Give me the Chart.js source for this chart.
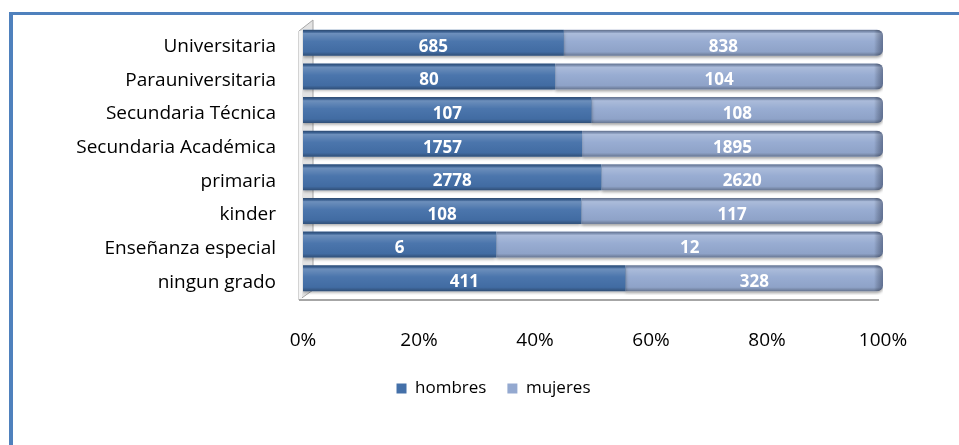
<!DOCTYPE html>
<html>
<head>
<meta charset="utf-8">
<script src="https://cdn.jsdelivr.net/npm/chart.js@4.4.0/dist/chart.umd.min.js"></script>
<style>
    html, body { margin: 0; padding: 0; background: #fff; overflow: hidden; }
    #wrap { position: relative; width: 959px; height: 445px; }
    #frame {
        position: absolute; left: 9px; top: 12px; width: 960px; height: 440px;
        border-left: 4px solid #4F81BD; border-top: 3px solid #4F81BD;
    }
    canvas { position: absolute; left: 0; top: 0; }
</style>
</head>
<body>
<div id="wrap">
    <div id="frame"></div>
    <canvas id="chart" width="959" height="445"></canvas>
</div>
<script>
const categories = [
    "Universitaria",
    "Parauniversitaria",
    "Secundaria Técnica",
    "Secundaria Académica",
    "primaria",
    "kinder",
    "Enseñanza especial",
    "ningun grado",
];
const hombres = [685, 80, 107, 1757, 2778, 108, 6, 411];
const mujeres = [838, 104, 108, 1895, 2620, 117, 12, 328];
const seriesNames = ["hombres", "mujeres"];
const tickStep = 20; // 0% .. 100%

const COLORS = {
    hombres: "#4470A9",
    mujeres: "#94A9D0",
};

// 100% stacked: share of each row
const totals = hombres.map((v, i) => v + mujeres[i]);
const hombresPct = hombres.map((v, i) => (v / totals[i]) * 100);
const mujeresPct = mujeres.map((v, i) => (v / totals[i]) * 100);
const rawValues = [hombres, mujeres];

const FONT = "'Open Sans', 'Noto Sans', sans-serif";

// grey side wall and floor of the 3D plot
const wallPlugin = {
    id: "wall",
    afterLayout(chart) {
        // legend sits a bit right of the canvas centre
        chart.legend.left += 22;
        chart.legend.right += 22;
    },
    beforeDatasetsDraw(chart) {
        const { ctx, chartArea } = chart;
        const { left, top, right, bottom } = chartArea;
        const floor = bottom + 5;
        ctx.save();
        ctx.fillStyle = "#E3E3E3";
        ctx.strokeStyle = "#A6A6A6";
        ctx.lineWidth = 1;
        ctx.beginPath();
        ctx.moveTo(left - 4, top + 5);
        ctx.lineTo(left + 10, top - 6);
        ctx.lineTo(left + 10, floor - 10);
        ctx.lineTo(left - 4, floor);
        ctx.closePath();
        ctx.fill();
        ctx.stroke();
        ctx.fillStyle = "#F4F4F4";
        ctx.fillRect(left - 4, top + 5, 3, floor - top - 5);
        ctx.strokeStyle = "#A6A6A6";
        ctx.lineWidth = 2;
        ctx.beginPath();
        ctx.moveTo(left - 4, floor);
        ctx.lineTo(right - 4, floor);
        ctx.stroke();
        ctx.restore();
        // soft shadow for the bars
        ctx.save();
        ctx.shadowColor = "rgba(0,0,0,0.35)";
        ctx.shadowBlur = 3;
        ctx.shadowOffsetX = 0;
        ctx.shadowOffsetY = 2;
    },
    afterDatasetsDraw(chart) {
        chart.ctx.restore();
    },
};

// bevel shading and value labels
const barLabelPlugin = {
    id: "barLabels",
    afterDatasetsDraw(chart) {
        const { ctx } = chart;
        const last = chart.data.datasets.length - 1;
        chart.data.datasets.forEach((ds, di) => {
            const meta = chart.getDatasetMeta(di);
            meta.data.forEach((bar, i) => {
                const x0 = Math.min(bar.base, bar.x);
                const w = Math.abs(bar.x - bar.base);
                const y0 = bar.y - bar.height / 2;
                const h = bar.height;
                ctx.save();
                ctx.beginPath();
                if (di === last) {
                    ctx.roundRect(x0, y0, w, h, [0, 6, 6, 0]);
                } else {
                    ctx.rect(x0, y0, w, h);
                }
                ctx.clip();
                const g = ctx.createLinearGradient(0, y0, 0, y0 + h);
                g.addColorStop(0, "rgba(0,0,0,0.35)");
                g.addColorStop(0.07, "rgba(0,0,0,0.15)");
                g.addColorStop(0.14, "rgba(255,255,255,0.22)");
                g.addColorStop(0.45, "rgba(255,255,255,0.04)");
                g.addColorStop(0.85, "rgba(0,0,0,0.04)");
                g.addColorStop(1, "rgba(0,0,0,0.3)");
                ctx.fillStyle = g;
                ctx.fillRect(x0, y0, w, h);
                if (di === last) {
                    const gr = ctx.createLinearGradient(x0 + w - 9, 0, x0 + w, 0);
                    gr.addColorStop(0, "rgba(0,0,0,0)");
                    gr.addColorStop(1, "rgba(20,30,60,0.4)");
                    ctx.fillStyle = gr;
                    ctx.fillRect(x0 + w - 9, y0, 9, h);
                }
                ctx.restore();

                ctx.save();
                ctx.fillStyle = "#FFFFFF";
                ctx.font = "bold 17px " + FONT;
                ctx.textAlign = "center";
                ctx.textBaseline = "middle";
                ctx.fillText(String(rawValues[di][i]), x0 + w / 2, bar.y + 4);
                ctx.restore();
            });
        });
    },
};

function init() {
    const ctx = document.getElementById("chart").getContext("2d");
    new Chart(ctx, {
        type: "bar",
        data: {
            labels: categories,
            datasets: [
                {
                    label: seriesNames[0],
                    data: hombresPct,
                    backgroundColor: COLORS.hombres,
                },
                {
                    label: seriesNames[1],
                    data: mujeresPct,
                    backgroundColor: COLORS.mujeres,
                    borderRadius: { topRight: 6, bottomRight: 6 },
                    borderSkipped: "start",
                },
            ],
        },
        options: {
            indexAxis: "y",
            responsive: false,
            animation: false,
            categoryPercentage: 1,
            barPercentage: 0.77,
            layout: {
                padding: { left: 60, right: 76, top: 26, bottom: 38 },
            },
            scales: {
                x: {
                    stacked: true,
                    min: 0,
                    max: 100,
                    grid: { display: false, drawTicks: false },
                    border: { display: false },
                    ticks: {
                        stepSize: tickStep,
                        padding: 34,
                        color: "#000",
                        font: { family: FONT, size: 19 },
                        callback: (v) => v + "%",
                    },
                    afterFit: (scale) => {
                        scale.height = 64;
                    },
                },
                y: {
                    stacked: true,
                    grid: {
                        display: true,
                        drawOnChartArea: false,
                        drawTicks: true,
                        tickLength: 27,
                        color: "rgba(0,0,0,0)",
                    },
                    border: { display: false },
                    ticks: {
                        padding: 0,
                        labelOffset: 4,
                        color: "#000",
                        font: { family: FONT, size: 19 },
                    },
                    afterFit: (scale) => {
                        scale.width = 243;
                    },
                },
            },
            plugins: {
                tooltip: { enabled: false },
                legend: {
                    position: "bottom",
                    labels: {
                        boxWidth: 10,
                        boxHeight: 10,
                        padding: 21,
                        color: "#000",
                        font: { family: FONT, size: 17 },
                    },
                },
            },
        },
        plugins: [wallPlugin, barLabelPlugin],
    });
}

init();
</script>
</body>
</html>
